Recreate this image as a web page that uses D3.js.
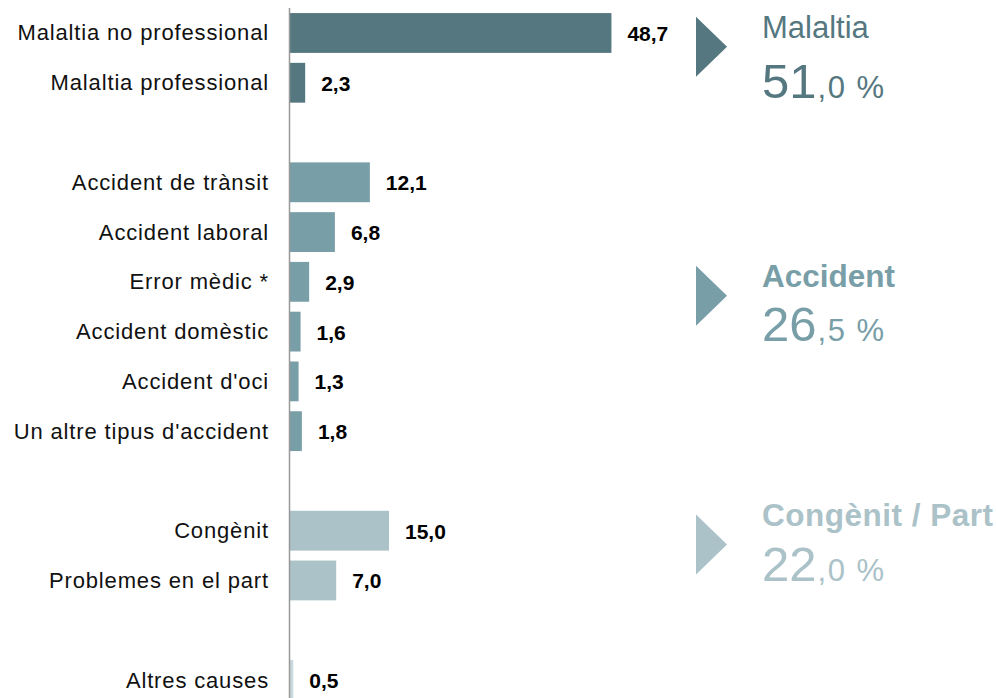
<!doctype html>
<html>
  <head>
    <meta charset="utf-8">
    <script src="https://cdnjs.cloudflare.com/ajax/libs/d3/7.8.5/d3.min.js"></script>
    <style>
      body { margin: 0; background: #fff; }
      svg { display: block; font-family: "Liberation Sans", Arial, sans-serif; }
    </style>
  </head>
  <body>
    <svg width="996" height="698"></svg>
  <script>
    // data (percent)
    var groups = ["Malaltia", "Accident", "Congènit / Part", "Altres"];
    var categories = [
      "Malaltia no professional", "Malaltia professional",
      "Accident de trànsit", "Accident laboral", "Error mèdic *",
      "Accident domèstic", "Accident d'oci", "Un altre tipus d'accident",
      "Congènit", "Problemes en el part",
      "Altres causes"
    ];
    var values = [48.7, 2.3, 12.1, 6.8, 2.9, 1.6, 1.3, 1.8, 15.0, 7.0, 0.5];
    var catGroup = [0, 0, 1, 1, 1, 1, 1, 1, 2, 2, 3];
    var groupTotals = [51.0, 26.5, 22.0];
    var groupColors = ["#557780", "#789ea8", "#aac2c8", "#c9d9dd"];

    var svg = d3.select("svg");
    var fmt = function(v) { return v.toFixed(1).replace(".", ","); };

    // band domain: categories with a spacer after each group
    var rows = [];
    groups.forEach(function(g, gi) {
      if (gi > 0) rows.push("gap" + gi);
      categories.forEach(function(c, i) { if (catGroup[i] === gi) rows.push(c); });
    });

    var y = d3.scaleBand()
      .domain(rows)
      .range([8.1, 704.9])
      .paddingInner(0.2)
      .paddingOuter(0.1);

    var x = d3.scaleLinear()
      .domain([0, 50])
      .range([290, 620]);

    var data = categories.map(function(c, i) {
      return { name: c, value: values[i], group: catGroup[i] };
    });

    svg.selectAll(".bar")
      .data(data)
      .enter().append("rect")
        .attr("class", "bar")
        .attr("x", x(0))
        .attr("y", d => y(d.name))
        .attr("width", d => x(d.value) - x(0))
        .attr("height", y.bandwidth())
        .style("fill", d => groupColors[d.group]);

    svg.selectAll(".val")
      .data(data)
      .enter().append("text")
        .attr("class", "val")
        .attr("x", d => x(d.value) + 16)
        .attr("y", d => y(d.name) + y.bandwidth() / 2 + 8)
        .style("font-size", "21px")
        .style("font-weight", "bold")
        .style("fill", "#000")
        .text(d => fmt(d.value));

    svg.selectAll(".cat")
      .data(data)
      .enter().append("text")
        .attr("class", "cat")
        .attr("x", 269)
        .attr("y", d => y(d.name) + y.bandwidth() / 2 + 7.5)
        .attr("text-anchor", "end")
        .style("font-size", "22px")
        .style("letter-spacing", "0.85px")
        .style("fill", "#111")
        .text(d => d.name);

    // vertical axis line
    svg.append("line")
      .attr("x1", 289.5).attr("x2", 289.5)
      .attr("y1", 8).attr("y2", 698)
      .style("stroke", "#999")
      .style("stroke-width", 1.5);

    // group summaries on the right
    var summary = groupTotals.map(function(t, gi) {
      var ys = data.filter(d => d.group === gi).map(d => y(d.name) + y.bandwidth() / 2);
      return { name: groups[gi], total: t, gi: gi, cy: d3.mean(ys) - 11 };
    });

    var sg = svg.selectAll(".sum")
      .data(summary)
      .enter().append("g")
        .attr("class", "sum")
        .attr("transform", d => `translate(696, ${d.cy})`);

    sg.append("path")
      .attr("d", "M0,-30L31,0L0,30Z")
      .style("fill", d => groupColors[d.gi]);

    sg.append("text")
      .attr("x", 66)
      .attr("y", d => d.gi === 0 ? -9 : (d.gi === 1 ? -9 : -19))
      .style("font-size", d => d.gi === 0 ? "31px" : "31.5px")
      .style("font-weight", d => d.gi === 0 ? "normal" : "bold")
      .style("letter-spacing", d => d.gi === 2 ? "0.5px" : "0px")
      .style("fill", d => groupColors[d.gi])
      .text(d => d.name);

    var num = sg.append("text")
      .attr("x", 66)
      .attr("y", d => d.gi === 0 ? 51 : (d.gi === 1 ? 45 : 36))
      .style("fill", d => groupColors[d.gi]);
    num.append("tspan")
      .style("font-size", "49px")
      .text(d => Math.floor(d.total));
    num.append("tspan")
      .attr("dx", 1)
      .style("font-size", "31px")
      .style("letter-spacing", "1.5px")
      .text(d => "," + fmt(d.total).split(",")[1] + " %");
  </script>
  </body>
</html>
